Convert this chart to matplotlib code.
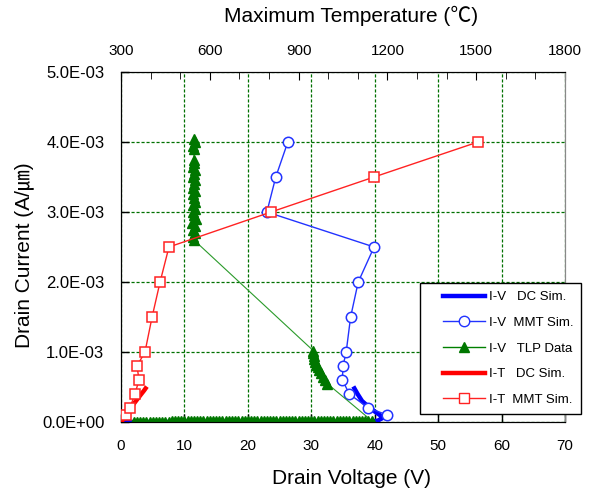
import matplotlib
matplotlib.use('Agg')
import matplotlib.pyplot as plt
from matplotlib.ticker import FuncFormatter, MultipleLocator
from matplotlib.lines import Line2D
from matplotlib.legend_handler import HandlerLine2D

plt.rcParams['font.family'] = ['Liberation Sans', 'Noto Sans CJK JP', 'DejaVu Sans']

# ---------------- data ----------------
# I-V DC simulation (V, current in 1e-3 A/um)
iv_dc_v = [0, 5, 10, 15, 20, 25, 30, 35, 38, 39.5, 40.5, 41.3, 40.8, 40.0, 39.0, 38.0, 37.3, 36.8]
iv_dc_i = [0, 0, 0, 0, 0, 0, 0, 0, 0, 0.005, 0.02, 0.06, 0.10, 0.15, 0.22, 0.30, 0.40, 0.48]

# I-V MMT simulation
iv_mmt_v = [26.3, 24.4, 23.0, 39.9, 37.4, 36.2, 35.5, 35.0, 34.9, 36.0, 39.0, 42.0]
iv_mmt_i = [4.0, 3.5, 3.0, 2.5, 2.0, 1.5, 1.0, 0.8, 0.6, 0.4, 0.2, 0.1]

# I-V TLP data
tlp_v = [2.0, 2.5, 3.0, 3.5, 4.0, 4.5, 5.0, 5.5, 6.0, 6.5, 7.0, 7.5, 8.0, 8.5, 9.0, 9.5,
         10.0, 10.5, 11.0, 11.5, 12.0, 12.5, 13.0, 13.5, 14.0, 14.5, 15.0, 15.5, 16.0, 16.5,
         17.0, 17.5, 18.0, 18.5, 19.0, 19.5, 20.0, 20.5, 21.0, 21.5, 22.0, 22.5, 23.0, 23.5,
         24.0, 24.5, 25.0, 25.5, 26.0, 26.5, 27.0, 27.5, 28.0, 28.5, 29.0, 29.5, 30.0, 30.5,
         31.0, 31.5, 32.0, 32.5, 33.0, 33.5, 34.0, 34.5, 35.0, 35.5, 36.0, 36.5, 37.0, 37.5,
         38.0, 38.5, 39.0, 39.5,
         32.5, 32.2, 31.8, 31.5, 31.2, 31.0, 30.8, 30.6, 30.5, 30.4, 30.3, 30.3,
         11.5, 11.3, 11.7, 11.4, 11.6, 11.2, 11.8, 11.5, 11.3, 11.6, 11.4, 11.7,
         11.5, 11.3, 11.6, 11.4, 11.5, 11.7, 11.3, 11.5, 11.6, 11.4, 11.5, 11.5,
         11.5, 11.4, 11.6, 11.5]
tlp_i = [0.005, 0.005, 0.005, 0.005, 0.006, 0.006, 0.006, 0.006, 0.007, 0.007, 0.007, 0.007,
         0.008, 0.008, 0.008, 0.008, 0.008, 0.009, 0.009, 0.009, 0.009, 0.009, 0.010, 0.010,
         0.010, 0.010, 0.010, 0.011, 0.011, 0.011, 0.011, 0.011, 0.012, 0.012, 0.012, 0.012,
         0.012, 0.013, 0.013, 0.013, 0.013, 0.013, 0.014, 0.014, 0.014, 0.014, 0.014, 0.015,
         0.015, 0.015, 0.015, 0.015, 0.016, 0.016, 0.016, 0.016, 0.016, 0.017, 0.017, 0.017,
         0.017, 0.017, 0.018, 0.018, 0.018, 0.018, 0.018, 0.019, 0.019, 0.019, 0.019, 0.019,
         0.020, 0.020, 0.020, 0.020,
         0.55, 0.60, 0.65, 0.70, 0.74, 0.78, 0.82, 0.86, 0.90, 0.94, 0.98, 1.02,
         2.60, 2.65, 2.70, 2.75, 2.80, 2.85, 2.90, 2.95, 3.00, 3.05, 3.10, 3.15,
         3.20, 3.25, 3.30, 3.35, 3.40, 3.45, 3.50, 3.55, 3.60, 3.65, 3.70, 3.75,
         3.90, 3.95, 4.00, 4.05]

# I-T DC simulation (temperature in degC)
it_dc_t = [300, 310, 325, 345, 365, 378, 383]
it_dc_i = [0, 0.05, 0.15, 0.27, 0.38, 0.45, 0.48]

# I-T MMT simulation
it_mmt_t = [318, 330, 347, 361, 354, 381, 405, 432, 462, 807, 1155, 1506]
it_mmt_i = [0.1, 0.2, 0.4, 0.6, 0.8, 1.0, 1.5, 2.0, 2.5, 3.0, 3.5, 4.0]

x_ticks = [0, 10, 20, 30, 40, 50, 60, 70]
t_ticks = [300, 600, 900, 1200, 1500, 1800]
y_ticks = [0, 1e-3, 2e-3, 3e-3, 4e-3, 5e-3]

legend_labels = ['I-V   DC Sim.', 'I-V  MMT Sim.', 'I-V   TLP Data', 'I-T   DC Sim.', 'I-T  MMT Sim.']

sc = 1e-3
W, H = 595, 493
fig = plt.figure(figsize=(W / 100, H / 100), dpi=100)
L, R, T, B = 121, 565, 72, 422
ax = fig.add_axes([L / W, 1 - B / H, (R - L) / W, (B - T) / H])

ax.set_xlim(0, 70)
ax.set_ylim(0, 5e-3)
ax.set_xticks(x_ticks)
ax.set_yticks(y_ticks)
ax.yaxis.set_major_formatter(FuncFormatter(lambda v, p: '%.1E' % v))
ax.tick_params(axis='both', direction='in', length=6, width=1)
ax.tick_params(axis='x', pad=12, labelsize=11)
ax.tick_params(axis='y', pad=12, labelsize=12)
ax.grid(True, color='#007000', linestyle=(0, (2.5, 1.5)), linewidth=0.9)
ax.set_axisbelow(True)
for s in ['left', 'bottom', 'top']:
    ax.spines[s].set_color('black')
ax.spines['right'].set_color('#888888')

ax.plot(iv_dc_v, [v * sc for v in iv_dc_i], color='#0000ff', linewidth=3.2, zorder=3)
ax.plot(iv_mmt_v, [v * sc for v in iv_mmt_i], color='#2233ff', linewidth=1.0,
        marker='o', markersize=7.5, markerfacecolor='white', markeredgecolor='#2233ff',
        markeredgewidth=1.1, zorder=4)
ax.plot(tlp_v, [v * sc for v in tlp_i], color='#2a9a2a', linewidth=0.8,
        marker='^', markersize=6.5, markerfacecolor='#007700', markeredgecolor='#007700',
        zorder=5)

ax.set_xlabel('Drain Voltage (V)', fontsize=15)
ax.xaxis.set_label_coords(351 / W, 1 - 478 / H, transform=fig.transFigure)
ax.xaxis.label.set_va('center')
ax.set_ylabel('Drain Current (A/㎛)', fontsize=15)
ax.yaxis.set_label_coords(24 / W, 1 - 255 / H, transform=fig.transFigure)
ax.yaxis.label.set_va('center')

ax2 = ax.twiny()
ax2.set_xlim(300, 1800)
ax2.set_xticks(t_ticks)
ax2.xaxis.set_minor_locator(MultipleLocator(100))
ax2.tick_params(axis='x', which='both', direction='in', labelsize=11, pad=10)
ax2.tick_params(axis='x', which='major', length=6)
ax2.tick_params(axis='x', which='minor', length=5)
ax2.spines['right'].set_color('#888888')
ax2.plot(it_dc_t, [v * sc for v in it_dc_i], color='#ff0000', linewidth=3.2, zorder=3)
ax2.plot(it_mmt_t, [v * sc for v in it_mmt_i], color='#ff2222', linewidth=1.0,
         marker='s', markersize=7.5, markerfacecolor='white', markeredgecolor='#ff2222',
         markeredgewidth=1.1, zorder=4)
ax2.set_xlabel('Maximum Temperature (℃)', fontsize=15)
ax2.xaxis.set_label_coords(351 / W, 1 - 16 / H, transform=fig.transFigure)
ax2.xaxis.label.set_va('center')


class ShiftedHandler(HandlerLine2D):
    def __init__(self, shift, **kw):
        super().__init__(**kw)
        self.shift = shift

    def create_artists(self, legend, orig_handle, xdescent, ydescent, width, height,
                       fontsize, trans):
        return super().create_artists(legend, orig_handle, xdescent - self.shift, ydescent,
                                      width - self.shift, height, fontsize, trans)


handles = [
    Line2D([], [], color='#0000ff', linewidth=3.2),
    Line2D([], [], color='#2233ff', linewidth=1.0, marker='o', markersize=7.5,
           markerfacecolor='white', markeredgecolor='#2233ff'),
    Line2D([], [], color='#008000', linewidth=1.0, marker='^', markersize=7,
           markerfacecolor='#007700', markeredgecolor='#007700'),
    Line2D([], [], color='#ff0000', linewidth=3.2),
    Line2D([], [], color='#ff2222', linewidth=1.0, marker='s', markersize=7.5,
           markerfacecolor='white', markeredgecolor='#ff2222'),
]
shift_pt = 11.0
hmap = {h: ShiftedHandler(shift_pt) for h in handles}
leg = ax2.legend(handles, legend_labels, loc='upper left', handler_map=hmap,
                 bbox_to_anchor=(420 / W, 1 - 283 / H), bbox_transform=fig.transFigure,
                 fontsize=9.5, frameon=True, fancybox=False, framealpha=1,
                 edgecolor='black', handlelength=4.3, handletextpad=0.3,
                 labelspacing=1.02, borderpad=0.6, borderaxespad=0)
leg.get_frame().set_linewidth(1.0)
leg.set_zorder(10)

fig.savefig('out.png', dpi=100)
